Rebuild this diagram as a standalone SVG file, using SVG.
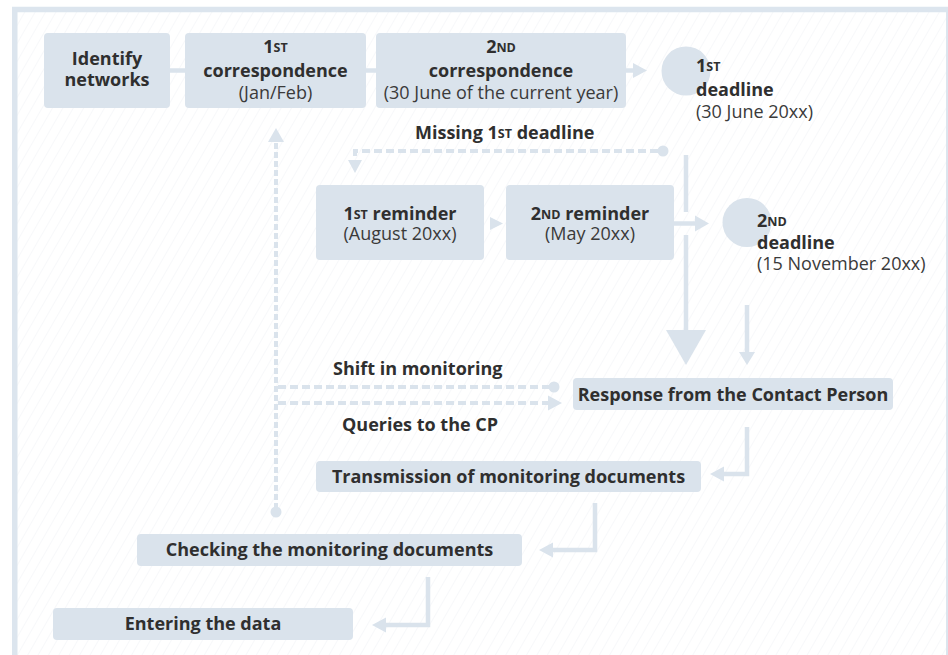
<svg xmlns="http://www.w3.org/2000/svg" width="948" height="655" viewBox="0 0 948 655">
  <defs>
    <pattern id="hatch" width="9" height="9" patternUnits="userSpaceOnUse" patternTransform="rotate(30)">
      <line x1="0" y1="0" x2="0" y2="9" stroke="#f3f5f8" stroke-width="1.3"/>
    </pattern>
  </defs>
  <style>
    .box { fill: #dae3ec; }
    .dot { fill: #dae3ec; }
    .t { font-family: "Open Sans", "Liberation Sans", sans-serif; font-size: 18px; fill: #2f2f2f; }
    .b { font-weight: 700; }
    .r { font-weight: 400; fill: #3a3a3a; }
    .sup { font-size: 12.5px; font-weight: 700; baseline-shift: 1.5px; }
    .solid { fill: none; stroke: #dae3ec; stroke-width: 4.5; }
    .dash { fill: none; stroke: #dae3ec; stroke-width: 4; stroke-dasharray: 8 4; }
    .dashv { fill: none; stroke: #dae3ec; stroke-width: 4; stroke-dasharray: 6 3; }
    .head { fill: #dae3ec; }
  </style>

  <!-- frame and hatched background -->
  <rect x="0" y="0" width="948" height="655" fill="#ffffff"/>
  <rect x="14.75" y="9.5" width="934" height="660" fill="url(#hatch)" stroke="#dce5ee" stroke-width="5.5"/>

  <!-- connectors -->
  <g id="connectors">
    <line class="solid" x1="170" y1="70.5" x2="185" y2="70.5"/>
    <line class="solid" x1="366" y1="70.5" x2="376" y2="70.5"/>
    <line class="solid" x1="626" y1="70.5" x2="635" y2="70.5" stroke-width="5"/>
    <polygon class="head" points="633,63 633,78 647,70.5"/>

    <!-- missing 1st deadline loop -->
    <circle class="dot" cx="663" cy="151" r="5.5"/>
    <path class="dash" d="M658,151 H355 V157"/>
    <polygon class="head" points="348,160 362,160 355,173"/>

    <!-- main vertical trunk -->
    <line class="solid" x1="686" y1="155" x2="686" y2="212" stroke-width="4"/>
    <line class="solid" x1="686" y1="235" x2="686" y2="332" stroke-width="4"/>
    <polygon class="head" points="666,330 706,330 686,365"/>

    <!-- reminders -->
    <polygon class="head" points="490,217 490,230 503,223.5"/>
    <line class="solid" x1="674" y1="223.5" x2="697" y2="223.5" stroke-width="6"/>
    <polygon class="head" points="695,215.5 695,231.5 709,223.5"/>

    <!-- from 2nd deadline -->
    <line class="solid" x1="747" y1="305" x2="747" y2="354" stroke-width="4"/>
    <polygon class="head" points="739,352 755,352 747,365"/>

    <!-- feedback loop on the left -->
    <polygon class="head" points="268,142 284,142 276,128"/>
    <path class="dashv" d="M276,143 V507"/>
    <circle class="dot" cx="276" cy="512" r="5.5"/>
    <path class="dash" d="M278,387 H549"/>
    <circle class="dot" cx="554" cy="387" r="5.5"/>
    <path class="dash" d="M278,403 H549"/>
    <polygon class="head" points="548,395.5 548,410.5 562,403"/>

    <!-- elbow arrows -->
    <path class="solid" d="M747,427 V474 H722" stroke-width="4"/>
    <polygon class="head" points="724,466.5 724,481.5 710,474"/>
    <path class="solid" d="M595,503 V550 H551" stroke-width="4"/>
    <polygon class="head" points="553,542.5 553,557.5 539,550"/>
    <path class="solid" d="M428,577 V625 H384" stroke-width="4"/>
    <polygon class="head" points="386,617.5 386,632.5 372,625"/>
  </g>

  <!-- labels on connectors -->
  <text class="t b" x="415" y="139">Missing 1<tspan class="sup">ST</tspan> deadline</text>
  <text class="t b" x="333" y="375">Shift in monitoring</text>
  <text class="t b" x="342" y="431">Queries to the CP</text>

  <!-- nodes -->
  <g id="identify">
    <rect class="box" x="44" y="33" width="126" height="75" rx="4"/>
    <text class="t b" text-anchor="middle"><tspan x="107" y="65">Identify</tspan><tspan x="107" y="86">networks</tspan></text>
  </g>

  <g id="corr1">
    <rect class="box" x="185" y="33" width="181" height="75" rx="4"/>
    <text class="t b" x="275.5" y="52.5" text-anchor="middle">1<tspan class="sup">ST</tspan></text>
    <text class="t b" x="275.5" y="76.5" text-anchor="middle">correspondence</text>
    <text class="t r" x="275.5" y="99" text-anchor="middle">(Jan/Feb)</text>
  </g>

  <g id="corr2">
    <rect class="box" x="376" y="33" width="250" height="75" rx="4"/>
    <text class="t b" x="501" y="52.5" text-anchor="middle">2<tspan class="sup">ND</tspan></text>
    <text class="t b" x="501" y="76.5" text-anchor="middle">correspondence</text>
    <text class="t r" x="501" y="99" text-anchor="middle">(30 June of the current year)</text>
  </g>

  <g id="deadline1">
    <circle class="dot" cx="686" cy="71" r="24.5"/>
    <text class="t b" x="696" y="72">1<tspan class="sup">ST</tspan></text>
    <text class="t b" x="696" y="96">deadline</text>
    <text class="t r" x="696" y="118">(30 June 20xx)</text>
  </g>

  <g id="reminder1">
    <rect class="box" x="316" y="185" width="168" height="75" rx="4"/>
    <text class="t b" x="400" y="220" text-anchor="middle">1<tspan class="sup">ST</tspan> reminder</text>
    <text class="t r" x="400" y="240" text-anchor="middle">(August 20xx)</text>
  </g>

  <g id="reminder2">
    <rect class="box" x="506" y="185" width="168" height="75" rx="4"/>
    <text class="t b" x="590" y="220" text-anchor="middle">2<tspan class="sup">ND</tspan> reminder</text>
    <text class="t r" x="590" y="240" text-anchor="middle">(May 20xx)</text>
  </g>

  <g id="deadline2">
    <circle class="dot" cx="747" cy="222.5" r="24.5"/>
    <text class="t b" x="757" y="227">2<tspan class="sup">ND</tspan></text>
    <text class="t b" x="757" y="249">deadline</text>
    <text class="t r" x="757" y="270">(15 November 20xx)</text>
  </g>

  <g id="response">
    <rect class="box" x="573" y="378" width="320" height="32" rx="4"/>
    <text class="t b" x="733" y="400.5" text-anchor="middle">Response from the Contact Person</text>
  </g>

  <g id="transmission">
    <rect class="box" x="316" y="461" width="385" height="31" rx="4"/>
    <text class="t b" x="508.5" y="483" text-anchor="middle">Transmission of monitoring documents</text>
  </g>

  <g id="checking">
    <rect class="box" x="137" y="534" width="385" height="32" rx="4"/>
    <text class="t b" x="329.5" y="556" text-anchor="middle">Checking the monitoring documents</text>
  </g>

  <g id="entering">
    <rect class="box" x="53" y="608" width="300" height="32" rx="4"/>
    <text class="t b" x="203" y="630" text-anchor="middle">Entering the data</text>
  </g>
</svg>
